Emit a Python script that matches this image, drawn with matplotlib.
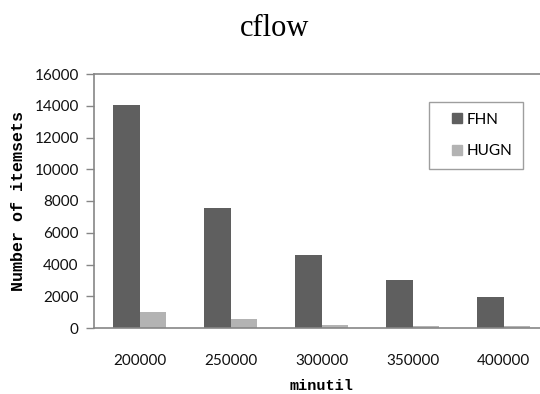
import matplotlib
matplotlib.use("Agg")
import matplotlib.pyplot as plt
from matplotlib.lines import Line2D
import numpy as np

categories = ["200000", "250000", "300000", "350000", "400000"]
fhn = [14050, 7550, 4600, 3050, 1950]
hugn = [1000, 550, 200, 130, 100]
series_names = ["FHN", "HUGN"]
series_colors = ["#5f5f5f", "#b3b3b3"]

tick_family = "Lato"
tick_size = 11

W, H = 540, 394
fig = plt.figure(figsize=(W / 100, H / 100), dpi=100)
left, right, top, bottom = 94, 549, 74, 328
ax = fig.add_axes([left / W, 1 - bottom / H, (right - left) / W, (bottom - top) / H])

x = np.arange(len(categories))
bw = 0.286
ax.bar(x - bw / 2, fhn, bw, color=series_colors[0], label=series_names[0])
ax.bar(x + bw / 2, hugn, bw, color=series_colors[1], label=series_names[1])

ax.set_xlim(-0.5, len(categories) - 0.5)
ax.set_ylim(0, 16000)
ax.set_yticks(range(0, 16001, 2000))
ax.set_xticks(x)
ax.set_xticklabels(categories)

for lab in ax.get_xticklabels() + ax.get_yticklabels():
    lab.set_fontfamily(tick_family)
    lab.set_fontsize(tick_size)
    lab.set_color("#111111")

ax.tick_params(axis="y", length=6, color="#868686", width=1, pad=5)
ax.tick_params(axis="x", length=0, pad=19)
for s in ["left", "top", "bottom", "right"]:
    ax.spines[s].set_color("#868686")
    ax.spines[s].set_linewidth(1.2)

ax.set_ylabel("Number of itemsets", family="Liberation Mono", weight="bold", fontsize=12, labelpad=6)
ax.set_xlabel("minutil", family="Liberation Mono", weight="bold", fontsize=11, labelpad=8)

fig.text(275 / W, 1 - 29 / H, "cflow", family="Liberation Serif", fontsize=22, ha="center", va="center")

handles = [Line2D([], [], linestyle="none", marker="s", markersize=7.2,
                  markerfacecolor=c, markeredgecolor=c) for c in series_colors]
bx0 = (429 - left) / (right - left)
bx1 = (523 - left) / (right - left)
by_top = 1 - (102 - top) / (bottom - top)
leg = ax.legend(handles, series_names, loc="upper left", mode="expand",
                bbox_to_anchor=(bx0, by_top - 0.3, bx1 - bx0, 0.3),
                frameon=True, fancybox=False, edgecolor="#868686",
                handlelength=2.2, labelspacing=1.15, borderpad=0.7, handletextpad=-0.45,
                borderaxespad=0, prop=dict(family=tick_family, size=tick_size))
leg.get_frame().set_linewidth(1.0)

fig.savefig("out.png", dpi=100)
